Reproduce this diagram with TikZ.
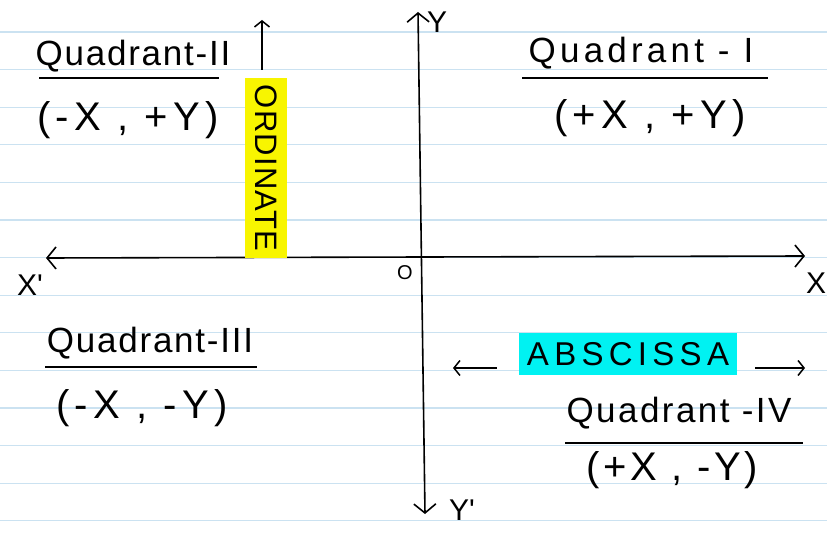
\documentclass[tikz,border=0pt]{standalone}
\usepackage{fontspec}
\setmainfont{Liberation Sans}
\newfontfamily\handfont{Liberation Sans}
\usetikzlibrary{arrows.meta,positioning}
\definecolor{ruleblue}{RGB}{203,226,241}
\definecolor{hlyellow}{RGB}{248,245,0}
\definecolor{hlcyan}{RGB}{0,242,242}

\begin{document}
\begin{tikzpicture}[x=1pt,y=-1pt,
  quad/.style={font=\handfont\fontsize{35}{37}\selectfont\addfontfeature{LetterSpace=5},inner sep=0pt},
  quadwide/.style={quad,font=\handfont\fontsize{35}{37}\selectfont\addfontfeature{LetterSpace=12}},
  coord/.style={font=\handfont\fontsize{40}{42}\selectfont\addfontfeature{LetterSpace=13},inner sep=0pt},
  axlabel/.style={font=\handfont\fontsize{30}{32}\selectfont,inner sep=0pt},
  uline/.style={line width=1.5pt},
  axis/.style={line width=1.6pt,{Straight Barb[length=9pt,width=22pt,line width=1.6pt]}-{Straight Barb[length=9pt,width=22pt,line width=1.6pt]}},
  arr/.style={line width=1.5pt,-{Straight Barb[length=6pt,width=15pt,line width=1.5pt]}}
]
% page and ruled lines
\useasboundingbox[fill=white] (0,0) rectangle (827,534);
\foreach \i in {0,...,13}
  \draw[ruleblue,line width=1.2pt] (0,32+37.6*\i) -- (827,32+37.6*\i);

% axes
\coordinate (xleft) at (46,258);
\coordinate (xright) at (805,256);
\coordinate (ytop) at (418,12);
\coordinate (ybot) at (425,514);
\draw[axis] (xleft) -- (xright);
\draw[axis] (ybot) -- (ytop);
\node[axlabel] (xl) at (30,285) {X'};
\node[axlabel] (xr) at (816,283) {X};
\node[axlabel] (yt) at (437,22) {Y};
\node[axlabel] (yb) at (462,510) {Y'};
\node[font=\handfont\fontsize{20}{22}\selectfont,inner sep=0pt] (o) at (405,273) {O};

% quadrant II
\node[quad] (q2) at (133,56) {Quadrant-II};
\draw[uline] ([xshift=-94pt,yshift=-22pt]q2.center) -- ([xshift=86pt,yshift=-22pt]q2.center);
\node[coord] (q2c) at (128,120) {(-X , +Y)};

% quadrant I
\node[quadwide] (q1) at (641,53) {Quadrant - I};
\draw[uline] ([xshift=-119pt,yshift=-25pt]q1.center) -- ([xshift=127pt,yshift=-25pt]q1.center);
\node[coord] (q1c) at (650,118) {(+X , +Y)};

% quadrant III
\node[quad] (q3) at (150,343) {Quadrant-III};
\draw[uline] ([xshift=-105pt,yshift=-24pt]q3.center) -- ([xshift=107pt,yshift=-24pt]q3.center);
\node[coord] (q3c) at (142,408) {(-X , -Y)};

% quadrant IV
\node[quad,font=\handfont\fontsize{35}{37}\selectfont\addfontfeature{LetterSpace=7}] (q4) at (679,413) {Quadrant -IV};
\draw[uline] ([xshift=-114pt,yshift=-30pt]q4.center) -- ([xshift=124pt,yshift=-30pt]q4.center);
\node[coord,font=\handfont\fontsize{40}{42}\selectfont\addfontfeature{LetterSpace=9}] (q4c) at (672,470) {(+X , -Y)};

% ordinate
\node[fill=hlyellow,rotate=-90,font=\handfont\fontsize{31}{33}\selectfont\addfontfeature{LetterSpace=4},
  minimum width=180pt,minimum height=42pt,inner sep=0pt] (ord) at (266,168) {ORDINATE};
\coordinate (ordtip) at (262,20);
\draw[arr] ([xshift=-4pt,yshift=8pt]ord.west) -- (ordtip);

% abscissa
\node[fill=hlcyan,font=\handfont\fontsize{33}{35}\selectfont\addfontfeature{LetterSpace=16},
  minimum width=218pt,minimum height=42pt,inner sep=0pt] (absc) at (628,354) {ABSCISSA};
\coordinate (absL) at (453,368);
\coordinate (absR) at (805,368);
\draw[arr] ([xshift=-22pt,yshift=-14pt]absc.west) -- (absL);
\draw[arr] ([xshift=18pt,yshift=-14pt]absc.east) -- (absR);
\end{tikzpicture}
\end{document}
